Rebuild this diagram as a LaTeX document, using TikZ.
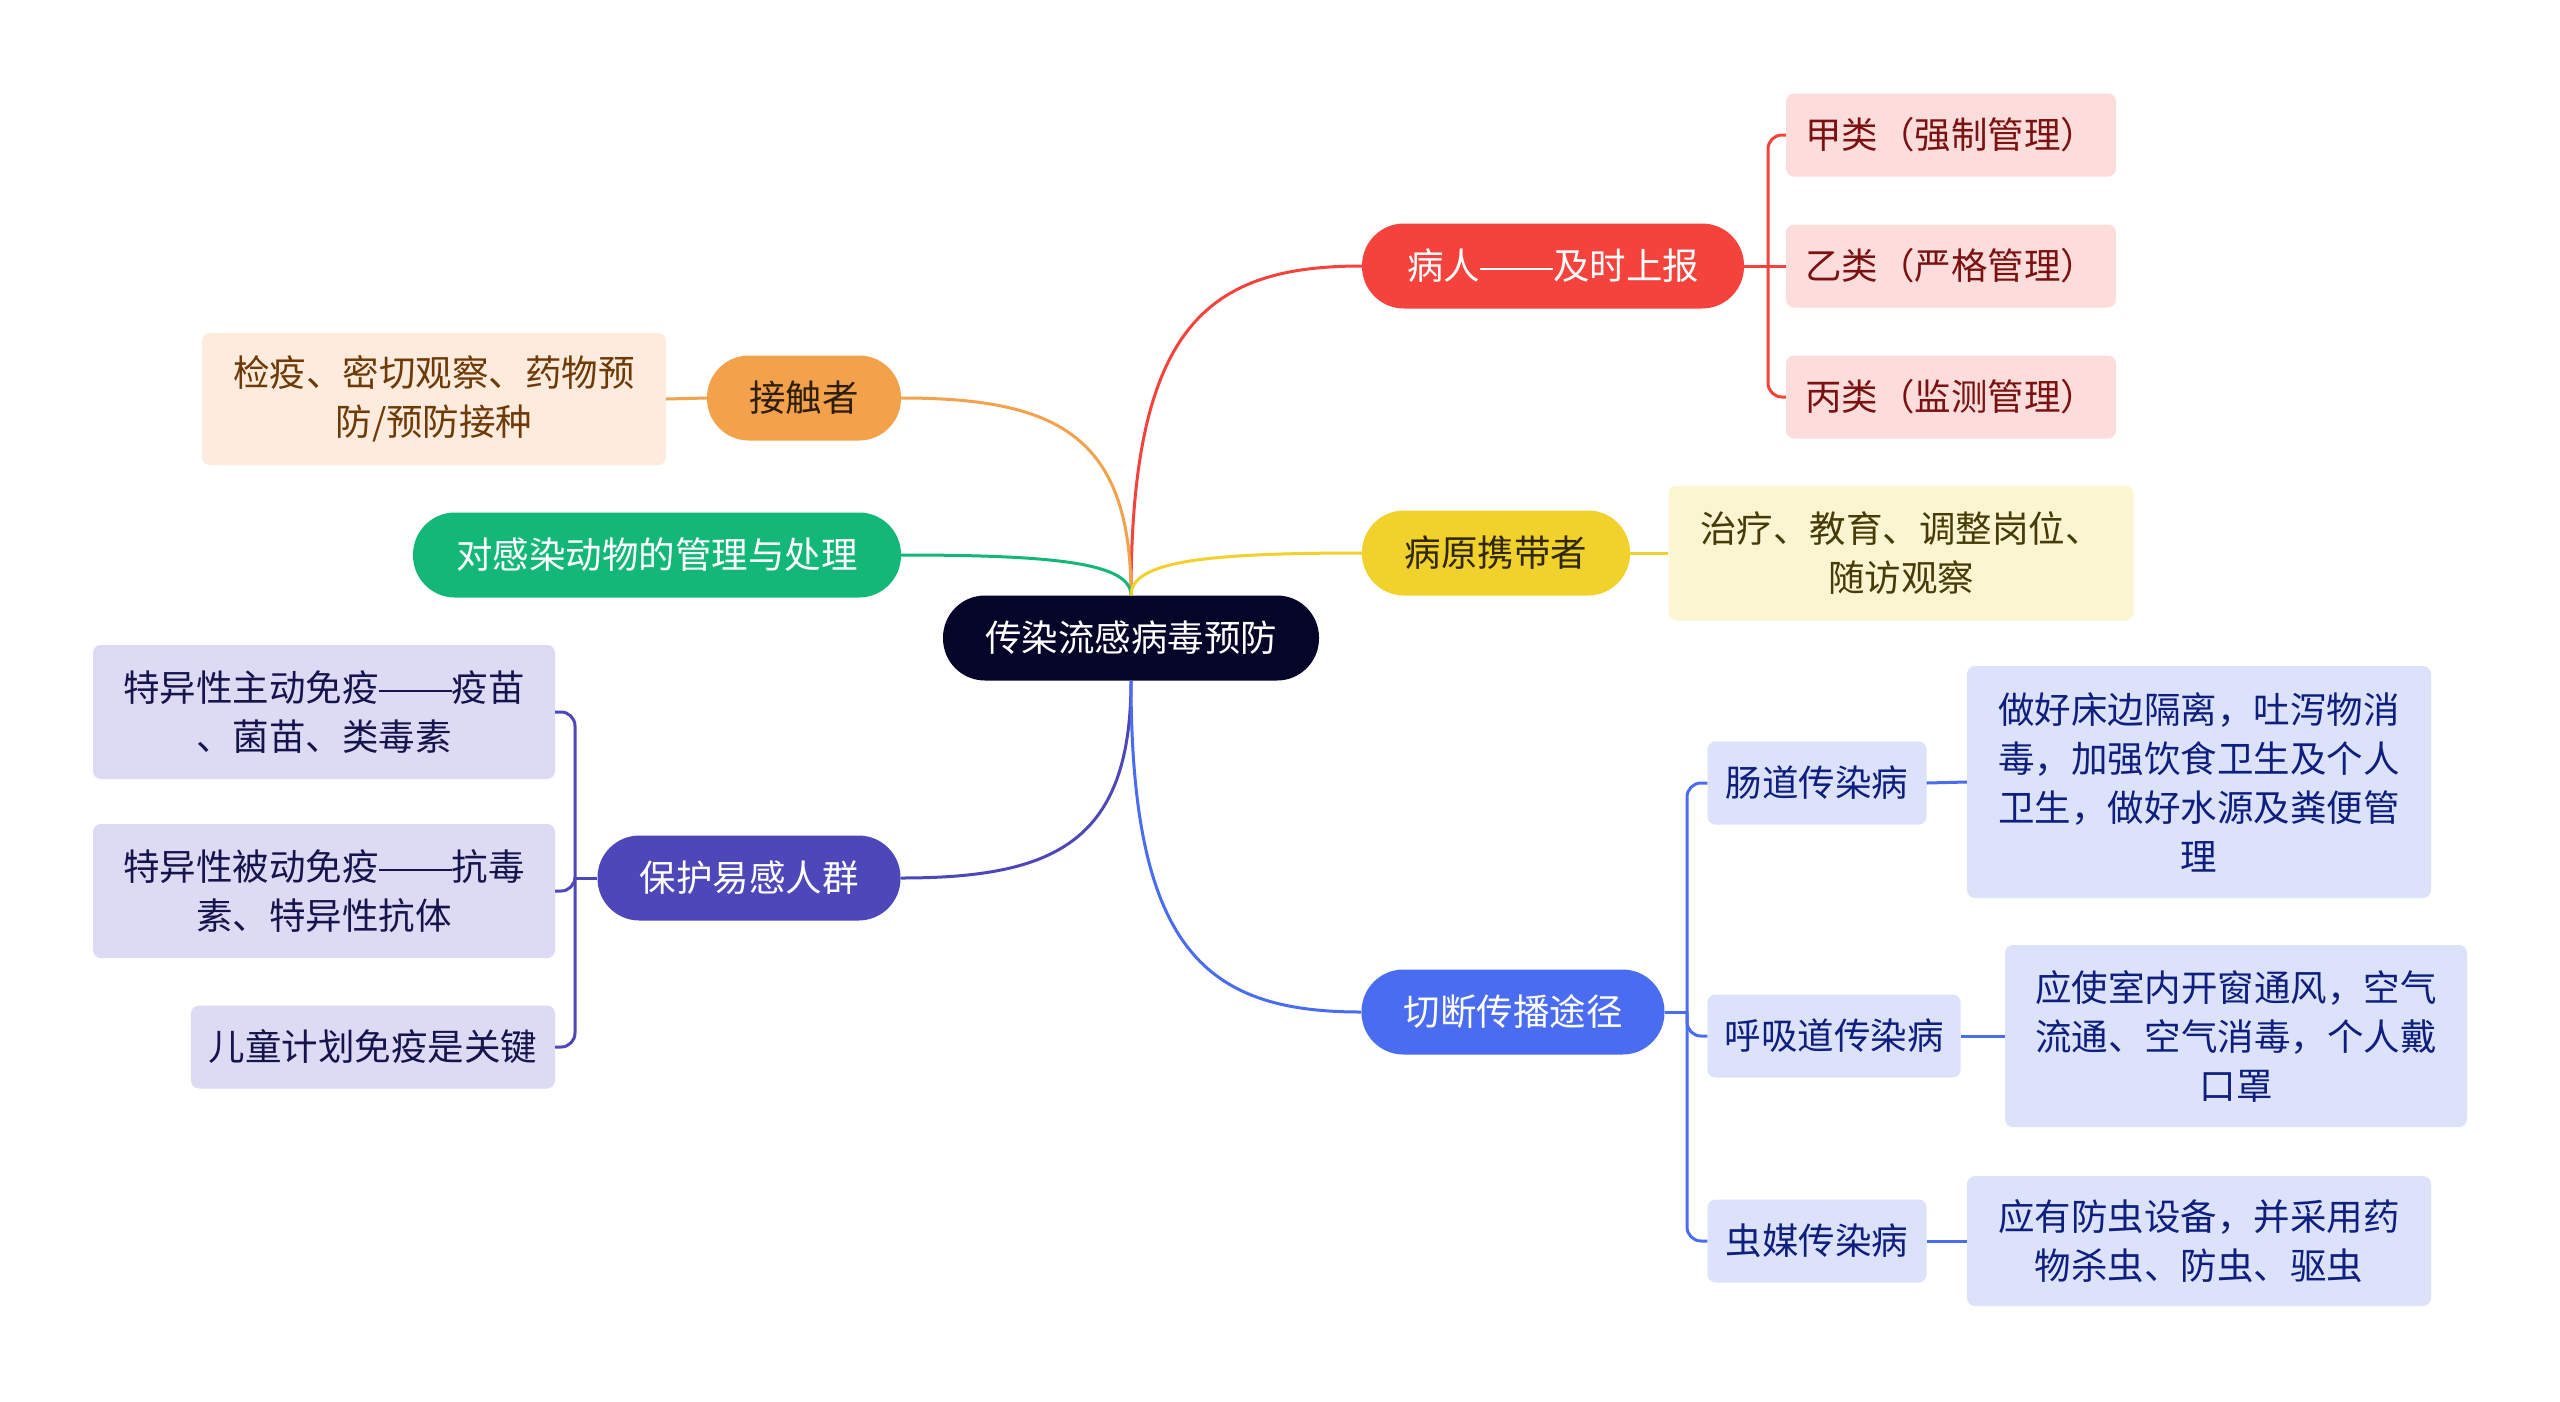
\documentclass[tikz,border=0pt]{standalone}
\usepackage{fontspec}
\setmainfont{Noto Sans CJK SC}
\newcommand\cjkdash{\rule[0.27em]{2em}{0.055em}}
\definecolor{cdark}{HTML}{05052A}
\definecolor{cred}{HTML}{F4433D}
\definecolor{lred}{HTML}{FDDCDC}
\definecolor{tred}{HTML}{7A1212}
\definecolor{corg}{HTML}{F3A24B}
\definecolor{lorg}{HTML}{FDEBDD}
\definecolor{torg}{HTML}{6E3A08}
\definecolor{tpillorg}{HTML}{2E1E0A}
\definecolor{cgrn}{HTML}{13B878}
\definecolor{cyel}{HTML}{F1D12C}
\definecolor{lyel}{HTML}{FCF5D1}
\definecolor{tyel}{HTML}{463C08}
\definecolor{tpillyel}{HTML}{302800}
\definecolor{cpur}{HTML}{4D47BA}
\definecolor{lpur}{HTML}{DCDBF3}
\definecolor{tpur}{HTML}{16144C}
\definecolor{cblue}{HTML}{4A6CF1}
\definecolor{lblue}{HTML}{DCE2FA}
\definecolor{tblue}{HTML}{0F1F7E}
\tikzset{
  pill/.style={rounded corners=42pt, minimum height=85pt, inner sep=0pt, font=\fontsize{36.5}{48}\selectfont},
  leaf/.style={rounded corners=8pt, inner sep=0pt, align=center, font=\fontsize{36.5}{49}\selectfont},
  conn/.style={line width=3pt},
  brk/.style={line width=3pt, rounded corners=14pt}
}
\begin{document}
\begin{tikzpicture}[x=1pt,y=-1pt]
\useasboundingbox (0,0) rectangle (2560,1401);
\fill[white] (0,0) rectangle (2560,1401);

% central
\node[pill, fill=cdark, text=white, minimum width=376pt] (c) at (1131,638) {传染流感病毒预防};

% red branch
\node[pill, fill=cred, text=white, minimum width=382pt] (r) at (1553,266) {病人\cjkdash 及时上报};
\node[leaf, fill=lred, text=tred, minimum width=330pt, minimum height=83pt] (r1) at (1951,135) {甲类（强制管理）};
\node[leaf, fill=lred, text=tred, minimum width=330pt, minimum height=83pt] (r2) at (1951,266) {乙类（严格管理）};
\node[leaf, fill=lred, text=tred, minimum width=330pt, minimum height=83pt] (r3) at (1951,397) {丙类（监测管理）};
\coordinate (rb) at (1768,266);

% yellow branch
\node[pill, fill=cyel, text=tpillyel, minimum width=268pt] (y) at (1496,553) {病原携带者};
\node[leaf, fill=lyel, text=tyel, minimum width=465pt, minimum height=135pt] (y1) at (1901,553) {治疗、教育、调整岗位、\\随访观察};

% blue branch
\node[pill, fill=cblue, text=white, minimum width=303pt] (b) at (1513,1012) {切断传播途径};
\node[leaf, fill=lblue, text=tblue, minimum width=219pt, minimum height=83pt] (b1) at (1817,783) {肠道传染病};
\node[leaf, fill=lblue, text=tblue, minimum width=464pt, minimum height=232pt] (b1a) at (2199,782) {做好床边隔离，吐泻物消\\毒，加强饮食卫生及个人\\卫生，做好水源及粪便管\\理};
\node[leaf, fill=lblue, text=tblue, minimum width=253pt, minimum height=83pt] (b2) at (1834,1036) {呼吸道传染病};
\node[leaf, fill=lblue, text=tblue, minimum width=462pt, minimum height=182pt] (b2a) at (2236,1036) {应使室内开窗通风，空气\\流通、空气消毒，个人戴\\口罩};
\node[leaf, fill=lblue, text=tblue, minimum width=219pt, minimum height=83pt] (b3) at (1817,1241) {虫媒传染病};
\node[leaf, fill=lblue, text=tblue, minimum width=464pt, minimum height=130pt] (b3a) at (2199,1241) {应有防虫设备，并采用药\\物杀虫、防虫、驱虫};
\coordinate (bb) at (1687,1012);

% orange branch
\node[pill, fill=corg, text=tpillorg, minimum width=194pt] (o) at (804,398) {接触者};
\node[leaf, fill=lorg, text=torg, minimum width=464pt, minimum height=132pt] (o1) at (434,399) {检疫、密切观察、药物预\\防/预防接种};

% green branch
\node[pill, fill=cgrn, text=white, minimum width=488pt] (g) at (657,555) {对感染动物的管理与处理};

% purple branch
\node[pill, fill=cpur, text=white, minimum width=303pt] (p) at (749,878) {保护易感人群};
\node[leaf, fill=lpur, text=tpur, minimum width=462pt, minimum height=134pt] (p1) at (324,712) {特异性主动免疫\cjkdash 疫苗\\、菌苗、类毒素};
\node[leaf, fill=lpur, text=tpur, minimum width=462pt, minimum height=134pt] (p2) at (324,891) {特异性被动免疫\cjkdash 抗毒\\素、特异性抗体};
\node[leaf, fill=lpur, text=tpur, minimum width=364pt, minimum height=83pt] (p3) at (373,1047) {儿童计划免疫是关键};
\coordinate (pb) at (575,878);

% main curves
\draw[conn, cred] (c.north) .. controls (1131,326) and (1207,266) .. (r.west);
\draw[conn, corg] (c.north) .. controls (1131,434) and (1055,398) .. (o.east);
\draw[conn, cgrn] (c.north) .. controls (1131,563) and (1055,555) .. (g.east);
\draw[conn, cyel] (c.north) .. controls (1131,561) and (1207,553) .. (y.west);
\draw[conn, cpur] (c.south) .. controls (1131,842) and (1055,878) .. (p.east);
\draw[conn, cblue] (c.south) .. controls (1131,952) and (1207,1012) .. (b.west);

% red bracket
\draw[conn, cred] (r.east) -- (r2.west);
\draw[brk, cred] (rb) |- (r1.west);
\draw[brk, cred] (rb) |- (r3.west);

% yellow
\draw[conn, cyel] (y.east) -- (y1.west);

% blue bracket
\draw[conn, cblue] (b.east) -- (bb);
\draw[brk, cblue] (bb) |- (b1.west);
\draw[brk, cblue] (bb) |- (b2.west);
\draw[brk, cblue] (bb) |- (b3.west);
\draw[conn, cblue] (b1.east) -- (b1a.west);
\draw[conn, cblue] (b2.east) -- (b2a.west);
\draw[conn, cblue] (b3.east) -- (b3a.west);

% orange
\draw[conn, corg] (o.west) -- (o1.east);

% purple bracket
\draw[conn, cpur] (p.west) -- (pb);
\draw[brk, cpur] (pb) |- (p1.east);
\draw[brk, cpur] (pb) |- (p2.east);
\draw[brk, cpur] (pb) |- (p3.east);
\end{tikzpicture}
\end{document}
